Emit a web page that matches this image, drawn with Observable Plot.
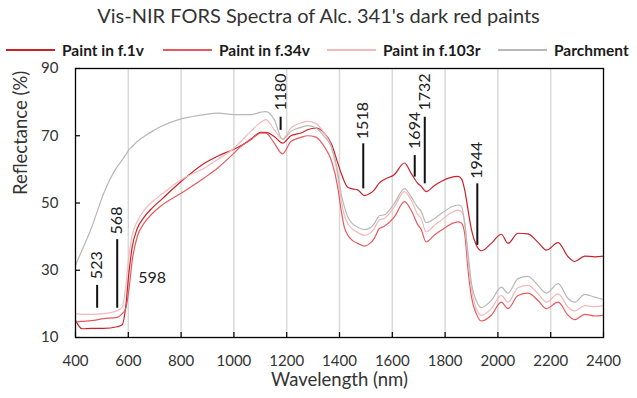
<!DOCTYPE html>
<html>
<head>
<meta charset="utf-8">
<script src="https://cdn.jsdelivr.net/npm/d3@7"></script>
<script src="https://cdn.jsdelivr.net/npm/@observablehq/plot@0.6"></script>
<style>
  body { margin: 0; background: #fff; font-family: Lato, "Open Sans", sans-serif; }
  #wrap { width: 637px; position: relative; }
  #title { height: 36px; font-size: 20px; line-height: 30px; text-align: center; color: #333; white-space: nowrap; }
  #legend { height: 14px; position: relative; overflow: visible; }
  .item { position: absolute; top: 0; height: 28px; display: flex; align-items: center; white-space: nowrap; }
  .sw { display: inline-block; width: 49px; height: 2px; margin-right: 7px; }
  .lt { font-weight: bold; font-size: 15.5px; color: #1a1a1a; }
  #chart svg { display: block; }
</style>
</head>
<body>
<div id="wrap">
  <div id="title"></div>
  <div id="legend"></div>
  <div id="chart"></div>
</div>
<script>
// ---- data ----
const titleText = "Vis-NIR FORS Spectra of Alc. 341's dark red paints";
const seriesNames = ["Paint in f.1v", "Paint in f.34v", "Paint in f.103r", "Parchment"];
const seriesColors = ["#c8232a", "#e65a5e", "#f4b9bb", "#b8b8b8"];

const wl = [400,425,460,507,558,577,590,602,615,634,660,690,725,800,890,940,1000,1026,1064,1102,1121,1153,1184,1216,1254,1279,1311,1342,1370,1393,1406,1418,1431,1450,1469,1494,1515,1532,1551,1570,1608,1646,1671,1697,1709,1728,1760,1785,1849,1862,1874,1887,1900,1918,1937,1975,2013,2038,2076,2114,2152,2184,2228,2266,2291,2329,2367,2400];

const f1v = [15.1,12.6,12.7,12.7,13.2, 13.8,19,29,37,42.4, 45.8,48.5,51,56.4,61.9, 64,66,67,69,71, 71,69.8,67.8,70,70.8, 71.8,72.3,70.8,67.5,62, 58.9,56.5,54.7,54.2,53.9, 52.2,52.8,53.9,56,57, 58.5,61.9,58.9,55.8,55, 53.4,55.2,56.4,57.9,57.2, 54,47.9,42,37.5,35.8, 38,40.7,38,41,40.8, 38.3,36,38.2,34,32.6, 34.2,34,34.2];
const f34v = [14.6,14.8,15,15.6,16, 17.1,18.5,24,33,40, 44,46.8,49.2,52.9,57.6, 60.5,64.8,66.8,68.8,70.8, 70.8,67.8,64.6,68.3,69.5, 70,69.6,66.8,62.5,54.9, 48,42.9,40.5,38.8,38, 37.2,38,39.5,42.4,43.1, 45.9,50.4,47.9,43.5,42.2, 38.4,40.5,41.9,44.4,44, 41,30,22,17.1,14.9, 16.6,20.5,18.6,22.5,23.2, 21,18.6,20.5,16.6,15.3, 16.9,16.4,16.6];
const f103r = [17.1,16.9,16.9,17.1,18, 19,25,34,40.5,44.5, 47.8,50.3,52.5,56.9,60.5, 63,66.3,68.3,71.3,74, 74.8,71.8,69,72.3,73.8, 74.3,73.6,70.8,66.5,58, 50.9,46.5,43.9,42.2,41.2, 40.4,41,42.4,45,45.4, 48.9,53.4,50.9,46.5,45.4, 41.4,43.4,44.9,47.9,47.4, 44.4,33,24.5,18.6,16.6, 18.6,22.5,20.5,24.8,25.5, 23,20.5,23,19,17.9, 19.5,19.2,19.5];
const parchment = [31.5,36,42.5,52.9,60.8, 62.8,64.3,65.8,66.8,68.3, 69.8,71.3,72.8,75,76.3, 76.7,76.3,76.3,76.3,77, 77.2,74.8,68.9,71.3,72.5, 73,72.3,69.8,66.5,59.5, 52.9,49,45.9,43.8,42.8, 42.1,42.6,43.9,46.2,46.5, 49.9,54.3,51.9,48.6,47.6, 44.2,45.4,46.9,49.4,49, 44,35,26,21,18.9, 21,25,23.2,27.5,28.2, 25.5,23.2,26,21.6,20.5, 22.8,22,21.3];

const xTicks = [400,600,800,1000,1200,1400,1600,1800,2000,2200,2400];
const yTicks = [10,30,50,70,90];
const xLabel = "Wavelength (nm)";
const yLabel = "Reflectance (%)";

// annotations (wavelength, reflectance)
const annLabel = ["523","568","1180","1518","1694","1732","1944"];
const annX     = [482, 558, 1177, 1490, 1685, 1723, 1922];
const annY1    = [18.7, 18.7, 71.6, 54.2, 57.7, 55.7, 37.4];
const annY2    = [25.5, 39.1, 75.5, 67.6, 64.1, 75.5, 55.7];
const annTextY = [31.5, 44.8, 83, 74.5, 71.6, 83, 62.7];
const flatLabel = ["598"];
const flatX = [690];
const flatY = [27.6];

// ---- build ----
const seriesValues = [f1v, f34v, f103r, parchment];
const rows = [];
seriesNames.forEach((name, s) => wl.forEach((w, i) => rows.push({series: name, wl: w, r: seriesValues[s][i]})));
const ann = annLabel.map((l, i) => ({label: l, x: annX[i], y1: annY1[i], y2: annY2[i], ty: annTextY[i]}));
const flat = flatLabel.map((l, i) => ({label: l, x: flatX[i], y: flatY[i]}));

document.getElementById("title").textContent = titleText;
const legendLeft = [6, 163, 327, 498];
const leg = document.getElementById("legend");
seriesNames.forEach((n, i) => {
  const it = document.createElement("div");
  it.className = "item";
  it.style.left = legendLeft[i] + "px";
  const sw = document.createElement("span");
  sw.className = "sw";
  sw.style.background = seriesColors[i];
  const t = document.createElement("span");
  t.className = "lt";
  t.textContent = n;
  it.appendChild(sw); it.appendChild(t);
  leg.appendChild(it);
});

const W = 637, H = 348, mL = 75, mR = 34, mT = 18, mB = 61;
const plotW = W - mL - mR, plotH = H - mT - mB;

const chart = Plot.plot({
  width: W, height: H,
  marginLeft: mL, marginRight: mR, marginTop: mT, marginBottom: mB,
  style: {fontFamily: "Lato, 'Open Sans', sans-serif", fontSize: "15px", color: "#333", background: "transparent"},
  x: {domain: [400, 2400], ticks: xTicks, tickFormat: "d", tickSize: 0, tickPadding: 18, label: null},
  y: {domain: [10, 90], ticks: yTicks, tickSize: 0, tickPadding: 17, label: null},
  color: {domain: seriesNames, range: seriesColors},
  marks: [
    Plot.ruleX(xTicks.slice(1, -1), {stroke: "#d9d9d9", strokeWidth: 1.5}),
    Plot.line(rows, {x: "wl", y: "r", z: "series", stroke: "series", strokeWidth: 1.2, curve: "monotone-x"}),
    Plot.ruleY(yTicks, {stroke: "#000", strokeWidth: 1.2, insetRight: plotW - 5}),
    Plot.ruleX(xTicks, {stroke: "#000", strokeWidth: 1.2, insetTop: plotH - 5}),
    Plot.frame({stroke: "#000", strokeWidth: 1.3}),
    Plot.ruleX(ann, {x: "x", y1: "y1", y2: "y2", stroke: "#111", strokeWidth: 2}),
    Plot.text(ann, {x: "x", y: "ty", text: "label", rotate: -90, fontSize: 16, fill: "#222"}),
    Plot.text(flat, {x: "x", y: "y", text: "label", fontSize: 16, fill: "#222"}),
    Plot.text([xLabel], {frameAnchor: "bottom", dy: 48, fontSize: 18.5, fill: "#333"}),
    Plot.text([yLabel], {frameAnchor: "left", rotate: -90, dx: -54, dy: -8, fontSize: 18.5, fill: "#333"})
  ]
});
document.getElementById("chart").appendChild(chart);
</script>
</body>
</html>
